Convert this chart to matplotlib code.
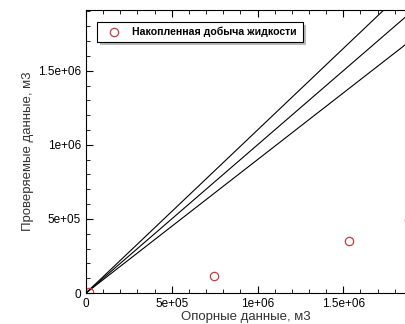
import matplotlib
matplotlib.use("Agg")
import matplotlib.pyplot as plt
from matplotlib.ticker import MultipleLocator
from matplotlib.patches import Rectangle

plt.rcParams["font.family"] = ["Liberation Sans", "DejaVu Sans"]

# reference vs checked cumulative liquid production
ref_x = [1.5e4, 7.47e5, 1.534e6, 1.885e6]
chk_y = [0.8e4, 1.15e5, 3.51e5, 4.95e5]
slopes = [1.1, 1.0, 0.9]  # guide lines
x_max = 1.86e6
y_max = 1.91e6

fig = plt.figure(figsize=(4.05, 3.24), dpi=100)
ax = fig.add_axes([86/405, 31/324, 319/405, 283/324])

for k in slopes:
    ax.plot([0, x_max * 1.1], [0, k * x_max * 1.1], color="black", lw=0.8)

ax.plot(ref_x, chk_y, "o", mfc="none", mec="#c04040", ms=6, mew=0.9,
        label="Накопленная добыча жидкости", clip_on=True)

ax.set_xlim(0, x_max)
ax.set_ylim(0, y_max)
ax.xaxis.set_major_locator(MultipleLocator(5e5))
ax.xaxis.set_minor_locator(MultipleLocator(1e5))
ax.yaxis.set_major_locator(MultipleLocator(5e5))
ax.yaxis.set_minor_locator(MultipleLocator(1e5))
ax.set_xticks([0, 5e5, 1e6, 1.5e6])
ax.set_xticklabels(["0", "5e+05", "1e+06", "1.5e+06"])
ax.set_yticks([0, 5e5, 1e6, 1.5e6])
ax.set_yticklabels(["0", "5e+05", "1e+06", "1.5e+06"])
ax.tick_params(which="both", direction="in", top=True, right=False,
               labelsize=8.5, colors="black")
ax.tick_params(which="major", length=5)
ax.tick_params(which="minor", length=3)
ax.spines["right"].set_visible(False)

ax.set_xlabel("Опорные данные, м3", fontsize=9.5, color="#333333", labelpad=1)
ax.set_ylabel("Проверяемые данные, м3", fontsize=9.5, color="#333333", labelpad=3)

# legend with shadow box
lx0, ly0, lw, lh = 97/405, 1 - 42/324, 206/405, 20/324
fig.patches.append(Rectangle((lx0 + 3/405, ly0 - 3/324), lw, lh, transform=fig.transFigure,
                             facecolor="#bbbbbb", edgecolor="none", zorder=5))
fig.patches.append(Rectangle((lx0, ly0), lw, lh, transform=fig.transFigure,
                             facecolor="white", edgecolor="black", lw=0.8, zorder=6))
fig.lines.append(plt.Line2D([114/405], [ly0 + lh/2], transform=fig.transFigure, marker="o",
                            mfc="none", mec="#c04040", ms=6, mew=0.9, zorder=7))
fig.text(132/405, ly0 + lh/2, "Накопленная добыча жидкости", fontsize=7.6, weight="bold",
         va="center", ha="left", zorder=7)

fig.savefig("out.png", dpi=100)
